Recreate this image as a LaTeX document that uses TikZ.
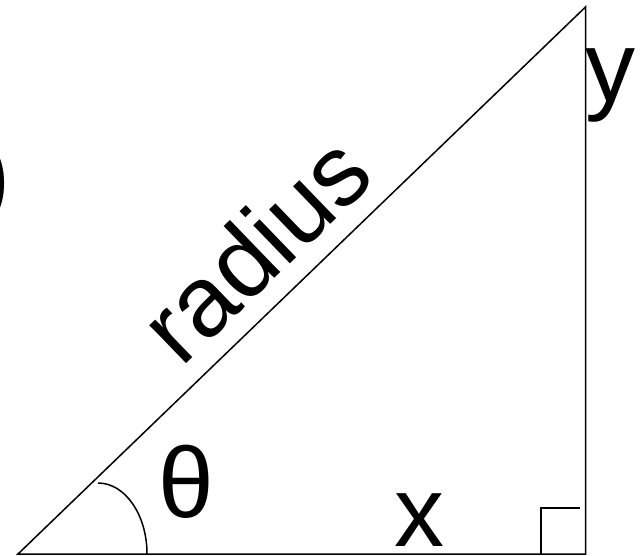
\documentclass[tikz,border=0pt]{standalone}
\usepackage{fontspec}
\setmainfont{Liberation Sans}
\usetikzlibrary{positioning}

\tikzset{
  edge/.style={draw=black, line width=1.5pt},
  lbl/.style={font=\fontsize{100}{120}\selectfont, inner sep=0pt}
}

\begin{document}
\begin{tikzpicture}[x=1pt, y=1pt]
      \useasboundingbox (0,0) rectangle (644,555);
      \coordinate (A) at (18,1);
      \coordinate (B) at (585.5,548);
      \coordinate (C) at (585.5,1);
      \draw[edge] (A) -- (C) -- (B) -- cycle;
      % right angle mark
      \coordinate (sqa) at (541,1);
      \coordinate (sqb) at (541,47);
      \coordinate (sqc) at (580,47);
      \draw[edge] (sqa) -- (sqb) -- (sqc);
      % angle mark
      \coordinate (arcstart) at (98,72);
      \draw[edge] (arcstart) arc[start angle=90, end angle=0,
        x radius=49, y radius=71];
      \node[lbl, anchor=base, rotate=43.94] (radius) at (279.9,281.2)
        {radius};
      \node[lbl, anchor=base] (theta) at (186.5,38) {θ};
      \node[lbl, anchor=base] (xlbl) at (419.5,9) {x};
      \node[lbl, anchor=base] (ylbl) at (610,453) {y};
      \node[lbl, anchor=base east] (paren) at (11,346) {)};
    \end{tikzpicture}
\end{document}
